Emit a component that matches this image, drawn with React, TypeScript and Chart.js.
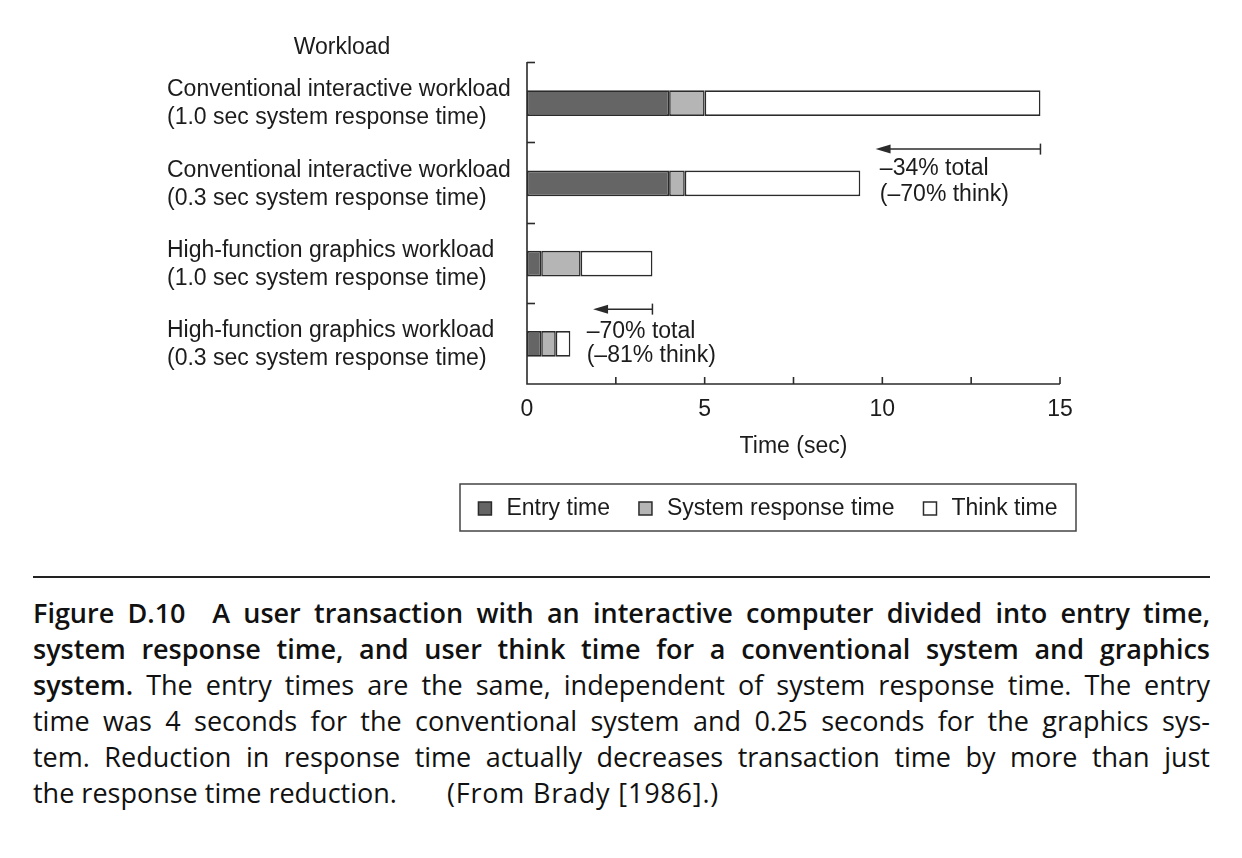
import React, { useEffect, useRef } from "react";
import { Chart, registerables } from "chart.js";

Chart.register(...registerables);

// ---------- data ----------
const categories: string[][] = [
  ["Conventional interactive workload", "(1.0 sec system response time)"],
  ["Conventional interactive workload", "(0.3 sec system response time)"],
  ["High-function graphics workload", "(1.0 sec system response time)"],
  ["High-function graphics workload", "(0.3 sec system response time)"],
];
const seriesNames = ["Entry time", "System response time", "Think time"];
const entryTime = [4.0, 4.0, 0.4, 0.4];
const systemResponseTime = [1.0, 0.44, 1.11, 0.41];
const thinkTime = [9.45, 4.94, 2.02, 0.41];
const seriesColors = ["#656565", "#b5b5b5", "#ffffff"];
const xMin = 0;
const xMax = 15;
const xTickStep = 2.5;
const xLabelStep = 5;
const yAxisTitle = "Workload";
const xAxisTitle = "Time (sec)";

// arrows: from/to in seconds, row = category index position
const annotationFrom = [14.45, 3.53];
const annotationTo = [9.81, 1.86];
const annotationRow = [0.573, 2.567];
const annotationTextX = [9.93, 1.68];
const annotationTextRows = [
  [0.82, 1.145],
  [2.845, 3.15],
];
const annotationLines = [
  ["\u201334% total", "(\u201370% think)"],
  ["\u201370% total", "(\u201381% think)"],
];

const FONT = '23px "Liberation Sans", Arial, sans-serif';
const TEXT = "#1c1c1c";
const LINE = "#2b2b2b";

const decorPlugin = {
  id: "decor",
  afterDraw(chart: any) {
    const ctx = chart.ctx as CanvasRenderingContext2D;
    const xs = chart.scales.x;
    const ys = chart.scales.y;
    const { left, right, top, bottom } = chart.chartArea;
    ctx.save();
    ctx.strokeStyle = LINE;
    ctx.lineWidth = 1.6;
    // axes
    ctx.beginPath();
    ctx.moveTo(left, top - 1);
    ctx.lineTo(left, bottom);
    ctx.lineTo(right, bottom);
    ctx.stroke();
    // y boundary ticks (inward)
    for (let i = 0; i < categories.length; i++) {
      const y = ys.getPixelForValue(i - 0.5);
      ctx.beginPath();
      ctx.moveTo(left, Math.round(y) - 0.5);
      ctx.lineTo(left + 8, Math.round(y) - 0.5);
      ctx.stroke();
    }
    // x ticks (inward)
    for (let v = xMin + xTickStep; v <= xMax + 1e-9; v += xTickStep) {
      const x = xs.getPixelForValue(v);
      ctx.beginPath();
      ctx.moveTo(x, bottom);
      ctx.lineTo(x, bottom - 7);
      ctx.stroke();
    }
    // category labels
    ctx.font = FONT;
    ctx.fillStyle = TEXT;
    ctx.textBaseline = "middle";
    ctx.textAlign = "left";
    categories.forEach((lines, i) => {
      const cy = ys.getPixelForValue(i) + 1;
      ctx.fillText(lines[0], 167, cy - 14);
      ctx.fillText(lines[1], 167, cy + 14);
    });
    ctx.textAlign = "center";
    ctx.fillText(yAxisTitle, 342, 48);

    // annotations
    annotationFrom.forEach((f, i) => {
      const x1 = xs.getPixelForValue(f);
      const x2 = xs.getPixelForValue(annotationTo[i]);
      const y = ys.getPixelForValue(annotationRow[i]);
      ctx.lineWidth = 1.5;
      ctx.beginPath();
      ctx.moveTo(x1, y);
      ctx.lineTo(x2 + 10, y);
      ctx.stroke();
      ctx.beginPath();
      ctx.moveTo(x1, y - 5.5);
      ctx.lineTo(x1, y + 5.5);
      ctx.stroke();
      ctx.fillStyle = LINE;
      ctx.beginPath();
      ctx.moveTo(x2, y);
      ctx.lineTo(x2 + 15, y - 4.5);
      ctx.lineTo(x2 + 15, y + 4.5);
      ctx.closePath();
      ctx.fill();
      ctx.fillStyle = TEXT;
      ctx.textAlign = "left";
      const tx = xs.getPixelForValue(annotationTextX[i]);
      annotationLines[i].forEach((t, j) => {
        ctx.fillText(t, tx, ys.getPixelForValue(annotationTextRows[i][j]));
      });
    });

    // legend
    const boxL = 460, boxT = 484, boxR = 1076, boxB = 531;
    ctx.strokeStyle = "#444";
    ctx.lineWidth = 1.5;
    ctx.strokeRect(boxL, boxT, boxR - boxL, boxB - boxT);
    const sq = 13, gapSq = 15, gapItem = 29;
    const ds = chart.data.datasets;
    let total = 0;
    ds.forEach((d: any, i: number) => {
      total += sq + gapSq + ctx.measureText(d.label).width + (i < ds.length - 1 ? gapItem : 0);
    });
    let x = (boxL + boxR) / 2 - total / 2;
    const cy = (boxT + boxB) / 2 + 1;
    ctx.textAlign = "left";
    ds.forEach((d: any) => {
      ctx.fillStyle = d.backgroundColor;
      ctx.fillRect(x, cy - sq / 2, sq, sq);
      ctx.strokeStyle = LINE;
      ctx.lineWidth = 1.5;
      ctx.strokeRect(x, cy - sq / 2, sq, sq);
      x += sq + gapSq;
      ctx.fillStyle = TEXT;
      ctx.fillText(d.label, x, cy);
      x += ctx.measureText(d.label).width + gapItem;
    });
    ctx.restore();
  },
};

const captionLines: { bold?: string; text?: string; tail?: string; last?: boolean }[] = [
  { bold: "Figure D.10\u2002 A user transaction with an interactive computer divided into entry time," },
  { bold: "system response time, and user think time for a conventional system and graphics" },
  { bold: "system.", text: " The entry times are the same, independent of system response time. The entry" },
  { text: "time was 4 seconds for the conventional system and 0.25 seconds for the graphics sys-" },
  { text: "tem. Reduction in response time actually decreases transaction time by more than just" },
  { text: "the response time reduction.", tail: "(From Brady [1986].)", last: true },
];

export default function App() {
  const ref = useRef<HTMLCanvasElement | null>(null);
  useEffect(() => {
    document.body.style.margin = "0";
    const canvas = ref.current!;
    const chart = new Chart(canvas, {
      type: "bar",
      data: {
        labels: categories.map((c) => c.join(" ")),
        datasets: [entryTime, systemResponseTime, thinkTime].map((vals, i) => ({
          label: seriesNames[i],
          data: vals,
          backgroundColor: seriesColors[i],
          borderColor: LINE,
          borderWidth: 1.6,
          borderSkipped: false,
          barPercentage: 0.32,
          categoryPercentage: 1,
        })),
      },
      plugins: [decorPlugin],
      options: {
        animation: false,
        responsive: false,
        devicePixelRatio: 1,
        indexAxis: "y",
        layout: { padding: { left: 527, right: 182, top: 63, bottom: 0 } },
        plugins: { legend: { display: false }, tooltip: { enabled: false } },
        scales: {
          x: {
            type: "linear",
            stacked: true,
            min: xMin,
            max: xMax,
            grid: { display: false, drawTicks: false },
            border: { display: false },
            ticks: {
              stepSize: xTickStep,
              autoSkip: false,
              maxRotation: 0,
              padding: 12,
              color: TEXT,
              font: { family: '"Liberation Sans", Arial, sans-serif', size: 23 },
              callback: (v: any) => (Math.abs(v % xLabelStep) < 1e-9 ? String(v) : ""),
            },
            title: {
              display: true,
              text: xAxisTitle,
              color: TEXT,
              font: { family: '"Liberation Sans", Arial, sans-serif', size: 23 },
              padding: { top: 0, bottom: 100 },
            },
            afterFit: (s: any) => {
              s.height = 176;
            },
          },
          y: {
            type: "category",
            stacked: true,
            display: false,
            offset: true,
          },
        },
      } as any,
    });
    return () => chart.destroy();
  }, []);

  return (
    <div style={{ position: "relative", width: 1242, height: 858, background: "#fff", overflow: "hidden" }}>
      <canvas ref={ref} width={1242} height={560} style={{ display: "block", position: "absolute", left: 0, top: 0 }} />
      <div style={{ position: "absolute", left: 33, top: 576, width: 1177, height: 2, background: "#222" }} />
      <div
        style={{
          position: "absolute",
          left: 33,
          top: 595,
          width: 1177,
          fontFamily: "'Open Sans', 'Noto Sans', sans-serif",
          fontSize: 27,
          lineHeight: "36px",
          color: "#111",
          fontVariantLigatures: "none",
        }}
      >
        {captionLines.map((l, i) => (
          <div
            key={i}
            style={{
              textAlign: l.last ? "left" : "justify",
              textAlignLast: l.last ? "left" : "justify",
              whiteSpace: "nowrap",
            } as any}
          >
            {l.bold && <span style={{ fontWeight: 600 }}>{l.bold}</span>}
            {l.text}
            {l.tail && <span style={{ marginLeft: 50, letterSpacing: "0.8px" }}>{l.tail}</span>}
          </div>
        ))}
      </div>
    </div>
  );
}
